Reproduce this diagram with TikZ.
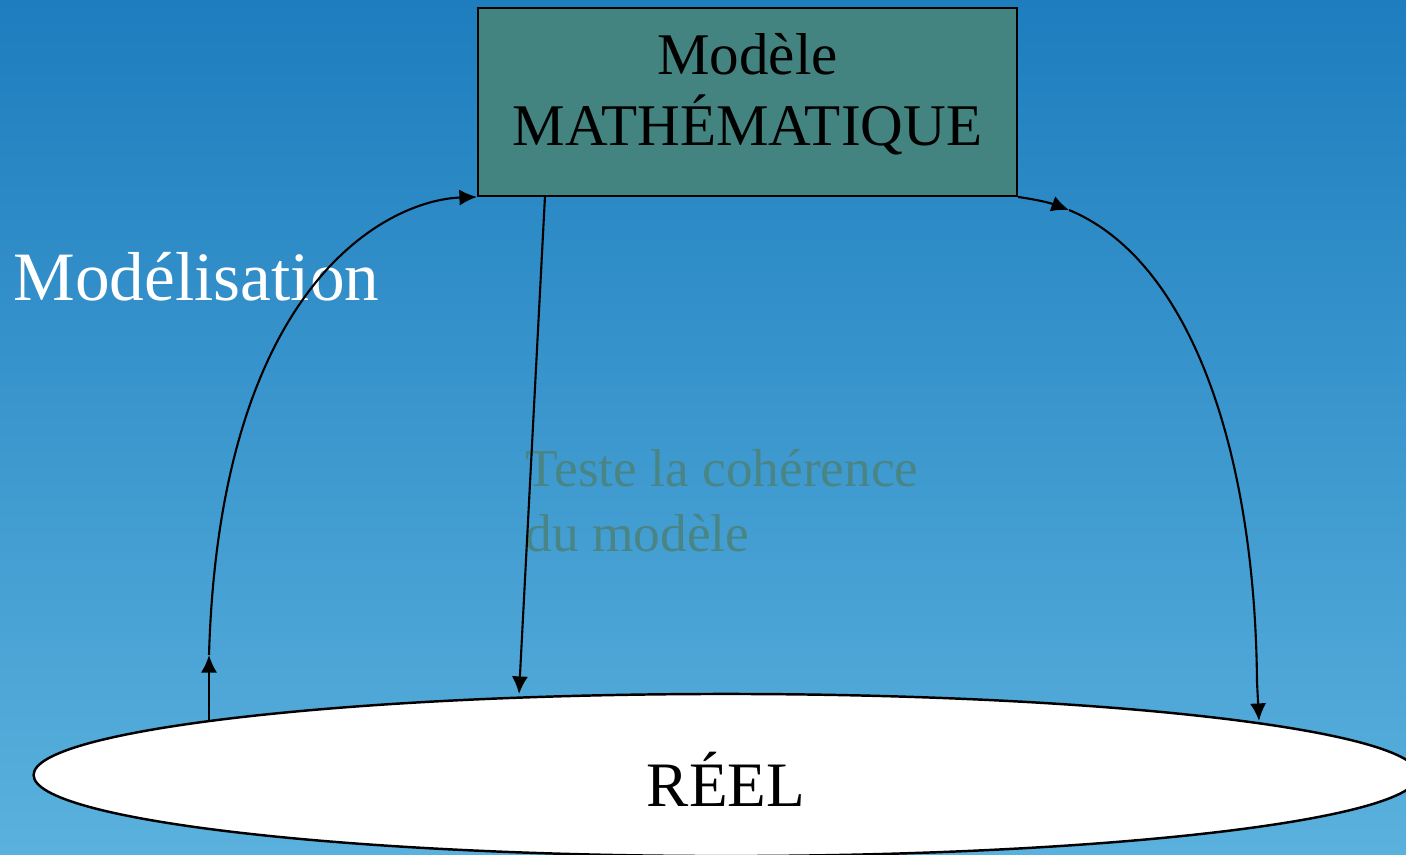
\documentclass[tikz,border=0pt]{standalone}
\usepackage{fontspec}
\setmainfont{Liberation Serif}
\usetikzlibrary{shapes.geometric,arrows.meta}
\definecolor{skytop}{HTML}{1D7DBE}
\definecolor{skybot}{HTML}{5AB1DD}
\definecolor{modfill}{HTML}{438380}
\definecolor{modtext}{HTML}{4A8585}

\begin{document}
\begin{tikzpicture}[x=0.01cm, y=-0.01cm, every node/.style={inner sep=0pt},
    flow/.style={line width=0.6pt, -{Latex[length=5pt,width=4.6pt]}}]

% --- background ---
\shade[top color=skytop, bottom color=skybot] (0,0) rectangle (1406,854);
\useasboundingbox (0,0) rectangle (1406,854);
\clip (0,0) rectangle (1406,854);

% --- model and reality ---
\node[draw, line width=0.5pt, fill=modfill, minimum width=5.39cm, minimum height=1.88cm,
      align=center, font=\fontsize{16.8}{20}\selectfont, text depth=0.25cm] (maths) at (747.5,102)
     {Modèle\\MATHÉMATIQUE};
\node[draw, ellipse, line width=0.7pt, fill=white, minimum width=13.84cm, minimum height=1.62cm,
      font=\fontsize{18}{22}\selectfont, text height=0.62cm, text depth=0pt] (reel) at (726,775)
     {RÉEL};

% --- labels ---
\node[white, anchor=base west, font=\fontsize{19.7}{24}\selectfont] (modl) at (13,300) {Modélisation};
\node[modtext, anchor=north west, align=left, font=\fontsize{15.15}{18.3}\selectfont] (teste) at (525,449)
     {Teste la cohérence\\du modèle};

% --- connectors ---
\coordinate (l0) at (209,721);
\coordinate (l1) at (209,655);
\coordinate (m0) at (545,196);
\coordinate (m1) at (519,694);
\coordinate (r1) at (1069,210);
\coordinate (r2) at (1257,682);
\coordinate (r3) at (1259,721);

\draw[flow] (l0) -- (l1);
\draw[flow] (l1) .. controls (220,280) and (390,200) .. (maths.south west);
\draw[flow] (m0) -- (m1);
\draw[flow] (maths.south east) to[bend left=6] (r1);
\draw[line width=0.6pt] (r1) .. controls (1190,260) and (1255,450) .. (r2);
\draw[flow] (r2) -- (r3);

\end{tikzpicture}
\end{document}
